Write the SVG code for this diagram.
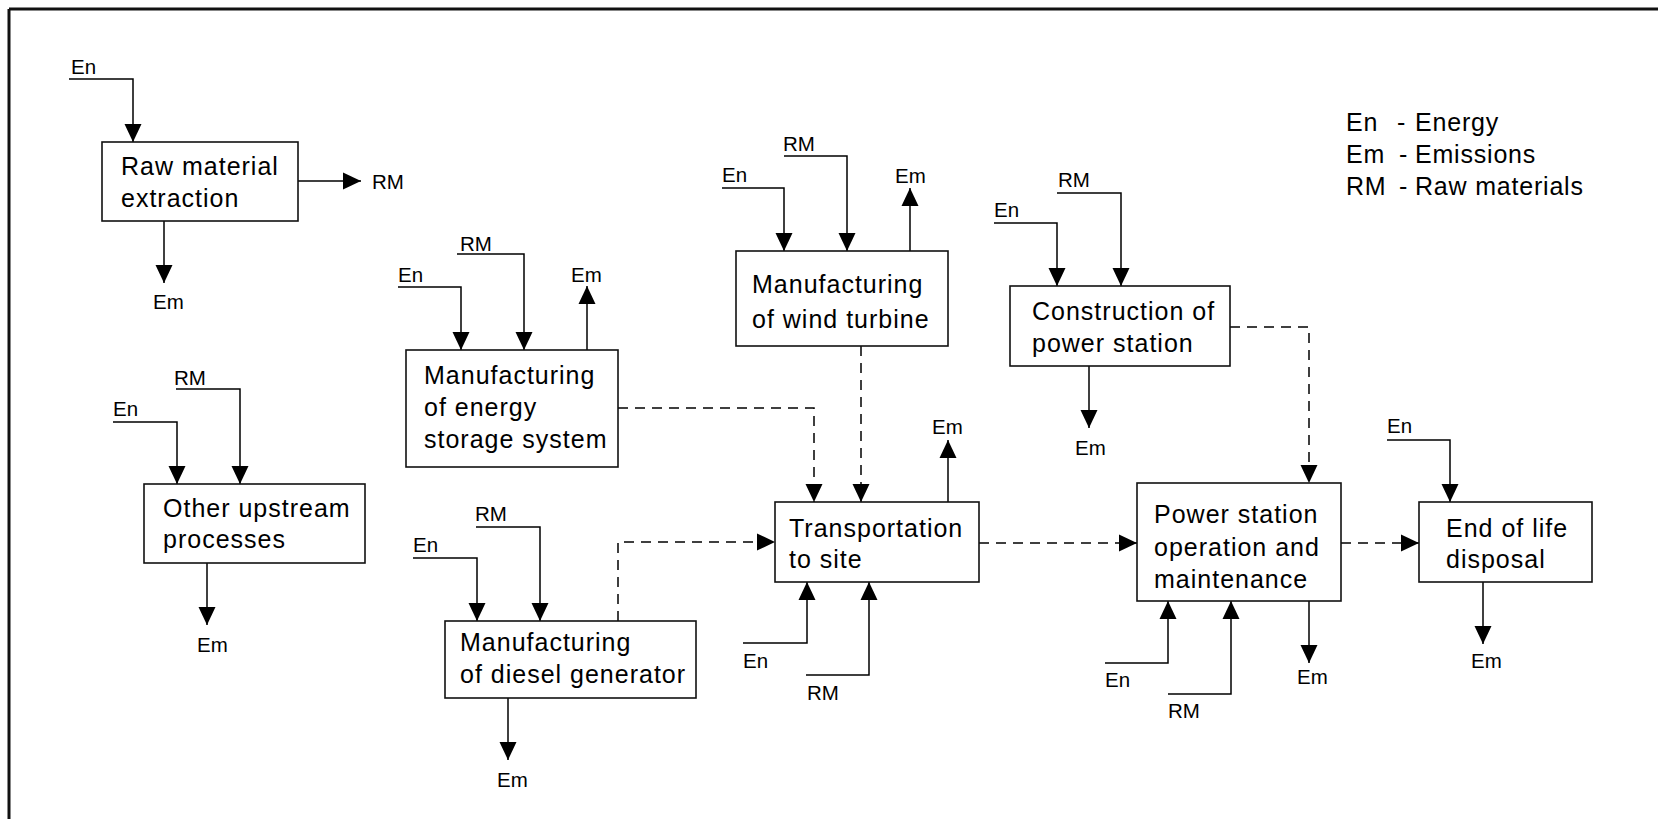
<svg xmlns="http://www.w3.org/2000/svg" width="1658" height="819" viewBox="0 0 1658 819">
<style>
.box{fill:#fff;stroke:#111;stroke-width:1.6}
.t{font-family:"Liberation Sans",Arial,sans-serif;font-size:25px;letter-spacing:1px;fill:#000}
.l{font-family:"Liberation Sans",Arial,sans-serif;font-size:20.5px;fill:#000}
.lg{font-family:"Liberation Sans",Arial,sans-serif;font-size:25px;letter-spacing:0.8px;fill:#000}
.c{fill:none;stroke:#000;stroke-width:1.5}
.a{marker-end:url(#ah)}
.d{stroke-dasharray:10 7}
</style>
<defs>
<marker id="ah" markerUnits="userSpaceOnUse" markerWidth="18" markerHeight="18" viewBox="0 0 18 18" refX="18" refY="9" orient="auto">
<path d="M0,0.5 L18,9 L0,17.5 z" fill="#000"/>
</marker>
</defs>
<rect width="1658" height="819" fill="#fff"/>
<g id="frame" stroke="#111" stroke-width="3">
<line x1="9" y1="9" x2="1658" y2="9"/>
<line x1="9" y1="9" x2="9" y2="819"/>
</g>
<g id="connectors">
<path class="c a" d="M69,79 H133 V142"/>
<path class="c a" d="M298,181 H361"/>
<path class="c a" d="M164,221 V283"/>
<path class="c a" d="M176,389 H240 V484"/>
<path class="c a" d="M113,422 H177 V484"/>
<path class="c a" d="M207,563 V625"/>
<path class="c a" d="M457,254 H524 V350"/>
<path class="c a" d="M398,287 H461 V350"/>
<path class="c a" d="M587,350 V286"/>
<path class="c a d" d="M618,408 H814 V502"/>
<path class="c a" d="M784,156 H847 V251"/>
<path class="c a" d="M722,188 H784 V251"/>
<path class="c a" d="M910,251 V188"/>
<path class="c a d" d="M861,346 V502"/>
<path class="c a" d="M1057,193 H1121 V286"/>
<path class="c a" d="M994,223 H1057 V286"/>
<path class="c a" d="M1089,366 V428"/>
<path class="c a d" d="M1230,327 H1309 V483"/>
<path class="c a" d="M476,527 H540 V621"/>
<path class="c a" d="M413,558 H477 V621"/>
<path class="c a" d="M508,698 V760"/>
<path class="c a d" d="M618,621 V542 H775"/>
<path class="c a" d="M948,502 V440"/>
<path class="c a" d="M743,643 H807 V582"/>
<path class="c a" d="M806,675 H869 V582"/>
<path class="c a d" d="M979,543 H1137"/>
<path class="c a" d="M1105,663 H1168 V601"/>
<path class="c a" d="M1168,694 H1231 V601"/>
<path class="c a" d="M1309,601 V663"/>
<path class="c a d" d="M1341,543 H1419"/>
<path class="c a" d="M1387,440 H1450 V502"/>
<path class="c a" d="M1483,582 V644"/>
</g>
<g id="raw-material-extraction">
<rect class="box" x="102" y="142" width="196" height="79"/>
<text class="t" x="121" y="175">Raw material</text>
<text class="t" x="121" y="207">extraction</text>
<text class="l" x="71" y="74">En</text>
<text class="l" x="372" y="189">RM</text>
<text class="l" x="153" y="309">Em</text>
</g>
<g id="other-upstream">
<rect class="box" x="144" y="484" width="221" height="79"/>
<text class="t" x="163" y="517">Other upstream</text>
<text class="t" x="163" y="548">processes</text>
<text class="l" x="174" y="385">RM</text>
<text class="l" x="113" y="416">En</text>
<text class="l" x="197" y="652">Em</text>
</g>
<g id="storage">
<rect class="box" x="406" y="350" width="212" height="117"/>
<text class="t" x="424" y="384">Manufacturing</text>
<text class="t" x="424" y="416">of energy</text>
<text class="t" x="424" y="448">storage system</text>
<text class="l" x="460" y="251">RM</text>
<text class="l" x="398" y="282">En</text>
<text class="l" x="571" y="282">Em</text>
</g>
<g id="wind-turbine">
<rect class="box" x="736" y="251" width="212" height="95"/>
<text class="t" x="752" y="293">Manufacturing</text>
<text class="t" x="752" y="328">of wind turbine</text>
<text class="l" x="783" y="151">RM</text>
<text class="l" x="722" y="182">En</text>
<text class="l" x="895" y="183">Em</text>
</g>
<g id="construction">
<rect class="box" x="1010" y="286" width="220" height="80"/>
<text class="t" x="1032" y="320">Construction of</text>
<text class="t" x="1032" y="352">power station</text>
<text class="l" x="1058" y="187">RM</text>
<text class="l" x="994" y="217">En</text>
<text class="l" x="1075" y="455">Em</text>
</g>
<g id="diesel">
<rect class="box" x="445" y="621" width="251" height="77"/>
<text class="t" x="460" y="651">Manufacturing</text>
<text class="t" x="460" y="683">of diesel generator</text>
<text class="l" x="475" y="521">RM</text>
<text class="l" x="413" y="552">En</text>
<text class="l" x="497" y="787">Em</text>
</g>
<g id="transportation">
<rect class="box" x="775" y="502" width="204" height="80"/>
<text class="t" x="789" y="537">Transportation</text>
<text class="t" x="789" y="568">to site</text>
<text class="l" x="932" y="434">Em</text>
<text class="l" x="743" y="668">En</text>
<text class="l" x="807" y="700">RM</text>
</g>
<g id="power-station">
<rect class="box" x="1137" y="483" width="204" height="118"/>
<text class="t" x="1154" y="523">Power station</text>
<text class="t" x="1154" y="556">operation and</text>
<text class="t" x="1154" y="588">maintenance</text>
<text class="l" x="1105" y="687">En</text>
<text class="l" x="1168" y="718">RM</text>
<text class="l" x="1297" y="684">Em</text>
</g>
<g id="end-of-life">
<rect class="box" x="1419" y="502" width="173" height="80"/>
<text class="t" x="1446" y="537">End of life</text>
<text class="t" x="1446" y="568">disposal</text>
<text class="l" x="1387" y="433">En</text>
<text class="l" x="1471" y="668">Em</text>
</g>
<g id="legend">
<text class="lg" x="1346" y="131">En<tspan x="1397">-</tspan><tspan x="1415">Energy</tspan></text>
<text class="lg" x="1346" y="163">Em<tspan x="1399">-</tspan><tspan x="1415">Emissions</tspan></text>
<text class="lg" x="1346" y="195">RM<tspan x="1399">-</tspan><tspan x="1415">Raw materials</tspan></text>
</g>
</svg>
